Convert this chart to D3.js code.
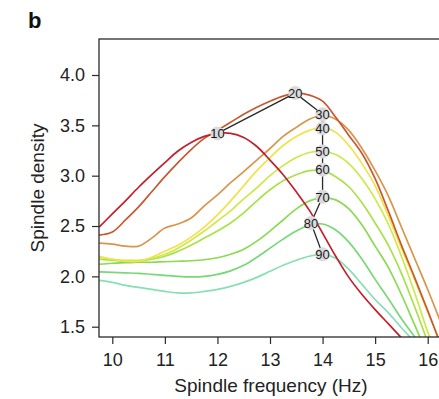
<!DOCTYPE html>
<html>
<head>
<meta charset="utf-8">
<script src="https://cdn.jsdelivr.net/npm/d3@7"></script>
<style>
  body { margin: 0; background: #fff; }
  text { font-family: "Liberation Sans", Arial, sans-serif; }
</style>
</head>
<body>
<div id="chart"></div>
<script>
// frequency grid (Hz)
const freq = [9.75, 10, 10.25, 10.5, 10.75, 11, 11.25, 11.5, 11.75, 12, 12.25, 12.5, 12.75, 13,
    13.25, 13.5, 13.75, 14, 14.25, 14.5, 14.75, 15, 15.25, 15.5, 15.75, 16, 16.25, 16.5];

// curve labels (percentile) and colours
const labels = ["10", "20", "30", "40", "50", "60", "70", "80", "90"];
const colors = ["#c1202c", "#c8582f", "#d8954c", "#f2e24a", "#cde84a", "#a8e24a", "#8ada52", "#78d878", "#86e0b4"];

// spindle density per curve
const d10 = [2.49, 2.62, 2.75, 2.885, 3.01, 3.13, 3.245, 3.33, 3.39, 3.42, 3.42, 3.38, 3.29, 3.155,
    3.01, 2.84, 2.655, 2.43, 2.2, 1.99, 1.82, 1.67, 1.53, 1.39, 1.27, 1.16, 1.08, 1.0];
const d20 = [2.41, 2.44, 2.56, 2.69, 2.84, 2.99, 3.13, 3.26, 3.37, 3.45, 3.53, 3.61, 3.68, 3.74,
    3.79, 3.82, 3.80, 3.74, 3.58, 3.40, 3.22, 2.97, 2.65, 2.31, 1.99, 1.66, 1.32, 1.0];
const d30 = [2.33, 2.32, 2.30, 2.30, 2.38, 2.48, 2.52, 2.58, 2.70, 2.81, 2.93, 3.04, 3.155, 3.27,
    3.39, 3.48, 3.56, 3.60, 3.56, 3.45, 3.27, 3.05, 2.80, 2.49, 2.18, 1.87, 1.54, 1.2];
const d40 = [2.20, 2.17, 2.15, 2.15, 2.19, 2.25, 2.31, 2.39, 2.49, 2.61, 2.75, 2.90, 3.05, 3.18,
    3.30, 3.39, 3.45, 3.48, 3.43, 3.30, 3.12, 2.90, 2.60, 2.28, 1.97, 1.65, 1.33, 1.0];
const d50 = [2.19, 2.17, 2.16, 2.16, 2.18, 2.22, 2.28, 2.36, 2.45, 2.55, 2.65, 2.77, 2.88, 3.0,
    3.10, 3.18, 3.23, 3.24, 3.21, 3.12, 2.97, 2.77, 2.52, 2.20, 1.84, 1.45, 1.1, 0.8];
const d60 = [2.17, 2.16, 2.15, 2.15, 2.17, 2.20, 2.25, 2.31, 2.38, 2.45, 2.53, 2.63, 2.75, 2.86,
    2.95, 3.01, 3.05, 3.05, 2.99, 2.89, 2.73, 2.53, 2.31, 2.03, 1.70, 1.35, 1.0, 0.7];
const d70 = [2.12, 2.13, 2.135, 2.14, 2.14, 2.145, 2.15, 2.155, 2.165, 2.185, 2.22, 2.27, 2.35, 2.45,
    2.56, 2.67, 2.75, 2.78, 2.76, 2.67, 2.51, 2.30, 2.09, 1.82, 1.52, 1.22, 0.95, 0.7];
const d80 = [2.045, 2.04, 2.035, 2.03, 2.02, 2.01, 2.0, 1.995, 2.0, 2.02, 2.055, 2.11, 2.19, 2.28,
    2.37, 2.45, 2.51, 2.52, 2.46, 2.34, 2.17, 1.97, 1.78, 1.58, 1.40, 1.2, 1.0, 0.8];
const d90 = [1.96, 1.94, 1.91, 1.89, 1.87, 1.85, 1.835, 1.835, 1.85, 1.87, 1.90, 1.94, 1.99, 2.05,
    2.11, 2.16, 2.20, 2.22, 2.18, 2.07, 1.92, 1.77, 1.64, 1.49, 1.35, 1.22, 1.1, 1.0];

// label positions (peak of each curve)
const peakFreq = [12.0, 13.48, 14.0, 14.0, 14.0, 14.0, 14.0, 13.78, 14.0];
const peakDensity = [3.42, 3.82, 3.61, 3.47, 3.24, 3.06, 2.79, 2.53, 2.22];

const xTicks = [10, 11, 12, 13, 14, 15, 16];
const yTicks = [1.5, 2.0, 2.5, 3.0, 3.5, 4.0];

const series = [d10, d20, d30, d40, d50, d60, d70, d80, d90];

const width = 439;
const height = 399;
const plot = { left: 99, top: 39, right: 443, bottom: 337 };

const svg = d3.select("#chart")
    .append("svg")
    .attr("width", width)
    .attr("height", height);

const x = d3.scaleLinear().domain([10, 16]).range([112.3, 427.7]);
const y = d3.scaleLinear().domain([1.5, 4.0]).range([326.7, 75]);

svg.append("clipPath")
    .attr("id", "clip")
    .append("rect")
    .attr("x", plot.left)
    .attr("y", plot.top)
    .attr("width", plot.right - plot.left)
    .attr("height", plot.bottom - plot.top);

// panel letter
svg.append("text")
    .attr("x", 28)
    .attr("y", 28)
    .style("font-size", "22px")
    .style("font-weight", "bold")
    .style("fill", "#111")
    .text("b");

// curves
const line = d3.line()
    .x((d, i) => x(freq[i]))
    .y(d => y(d))
    .curve(d3.curveCatmullRom.alpha(0.5));

const g = svg.append("g").attr("clip-path", "url(#clip)");

// draw from 90 down to 10 so the red curve sits on top
for (let k = series.length - 1; k >= 0; k--) {
    g.append("path")
        .attr("d", line(series[k]))
        .attr("fill", "none")
        .attr("stroke", colors[k])
        .attr("stroke-width", 1.7)
        .attr("stroke-linejoin", "round");
}

// line joining the peaks
const peaks = labels.map((l, i) => ({ label: l, f: peakFreq[i], v: peakDensity[i] }));

g.append("path")
    .attr("d", d3.line().x(d => x(d.f)).y(d => y(d.v))(peaks))
    .attr("fill", "none")
    .attr("stroke", "#2a2a2a")
    .attr("stroke-width", 1.3);

g.selectAll("circle.peak")
    .data(peaks)
    .enter()
    .append("circle")
    .attr("class", "peak")
    .attr("cx", d => x(d.f))
    .attr("cy", d => y(d.v))
    .attr("r", 7)
    .attr("fill", "#dadadd");

g.selectAll("text.peak")
    .data(peaks)
    .enter()
    .append("text")
    .attr("class", "peak")
    .attr("x", d => x(d.f))
    .attr("y", d => y(d.v))
    .attr("dy", "0.36em")
    .attr("text-anchor", "middle")
    .style("font-size", "13px")
    .style("fill", "#1a1a1a")
    .text(d => d.label);

// box
svg.append("rect")
    .attr("x", plot.left)
    .attr("y", plot.top)
    .attr("width", plot.right - plot.left)
    .attr("height", plot.bottom - plot.top)
    .attr("fill", "none")
    .attr("stroke", "#2a2a2a")
    .attr("stroke-width", 1.3);

// axes
const xAxis = svg.append("g")
    .attr("transform", `translate(0,${plot.bottom})`)
    .call(d3.axisBottom(x).tickValues(xTicks).tickFormat(d3.format("d")).tickSize(7).tickPadding(9));

const yAxis = svg.append("g")
    .attr("transform", `translate(${plot.left},0)`)
    .call(d3.axisLeft(y).tickValues(yTicks).tickFormat(d3.format(".1f")).tickSize(7).tickPadding(7));

[xAxis, yAxis].forEach(a => {
    a.select(".domain").remove();
    a.selectAll("line").attr("stroke", "#2a2a2a").attr("stroke-width", 1.2);
    a.selectAll("text")
        .style("font-size", "18px")
        .style("font-family", "'Liberation Sans', Arial, sans-serif")
        .style("fill", "#222");
});

// axis titles
svg.append("text")
    .attr("x", 271)
    .attr("y", 392)
    .attr("text-anchor", "middle")
    .style("font-size", "19px")
    .style("fill", "#222")
    .text("Spindle frequency (Hz)");

svg.append("text")
    .attr("transform", `translate(44,${(plot.top + plot.bottom) / 2}) rotate(-90)`)
    .attr("text-anchor", "middle")
    .style("font-size", "19px")
    .style("fill", "#222")
    .text("Spindle density");
</script>
</body>
</html>
